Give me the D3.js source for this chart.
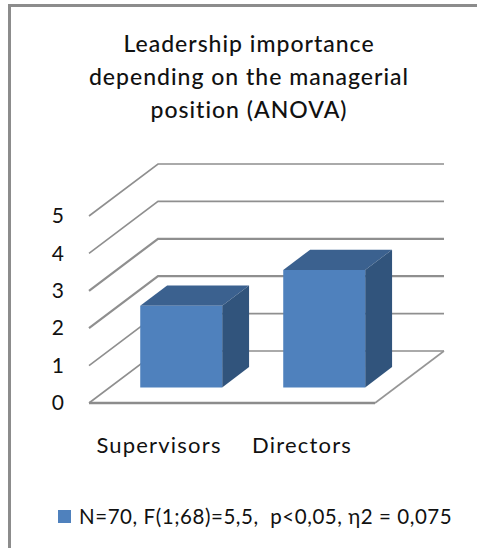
<!DOCTYPE html>
<html>
<head>
<meta charset="utf-8">
<script src="https://cdn.jsdelivr.net/npm/d3@7.9.0/dist/d3.min.js"></script>
<style>
  html, body { margin: 0; padding: 0; background: #fff; }
  svg { display: block; }
  text { font-family: Lato, "Open Sans", sans-serif; fill: #111; white-space: pre; }
  .axis path, .axis line { display: none; }
</style>
</head>
<body>
<div id="chart"></div>
<script>
const categories = ['Supervisors', 'Directors'];
const values = [2.18, 3.14];
const yTicks = [0, 1, 2, 3, 4, 5];
const titleLines = ['Leadership importance', 'depending on the managerial', 'position (ANOVA)'];
const legendLabel = 'N=70, F(1;68)=5,5,  p<0,05, \u03b72 = 0,075';

const width = 477;
const height = 548;

// front edge of the floor, and how far the back wall is pushed away from it
const floor = { left: 89, right: 375, y: 403 };
const depth = { dx: 69, dy: -52 };
const barDepth = { start: 0.3, end: 0.69 };

const svg = d3
  .select('#chart')
  .append('svg')
  .attr('width', width)
  .attr('height', height);

// chart frame, runs off the right and bottom of the crop
svg
  .append('rect')
  .attr('x', 9.5)
  .attr('y', 5.5)
  .attr('width', width + 20)
  .attr('height', height + 20)
  .attr('fill', '#fff')
  .attr('stroke', '#8c8c8c')
  .attr('stroke-width', 3);

const xScale = d3
  .scaleBand()
  .domain(categories)
  .range([floor.left, floor.right])
  .paddingInner(0.427)
  .paddingOuter(0.2135);

const yScale = d3.scaleLinear().domain([0, 5]).range([floor.y, 216]);

// x, value and depth (0 = front, 1 = back wall) to screen position
function project(x, v, z) {
  return [x + depth.dx * z, yScale(v) + depth.dy * z];
}

const line = d3.line();
const grid = svg.append('g');

grid
  .selectAll('path')
  .data(yTicks)
  .join('path')
  .attr('fill', 'none')
  .attr('stroke', '#8f8f8f')
  .attr('stroke-width', (d) => (d === 2 || d === 3 ? 2.2 : 1.6))
  .attr('d', (d) => line([
    project(floor.left, d, 0),
    project(floor.left, d, 1),
    project(floor.right, d, 1),
  ]));

// floor outline
svg
  .append('path')
  .attr('fill', 'none')
  .attr('stroke', '#969696')
  .attr('stroke-width', 1.6)
  .attr('d', line([project(floor.right, 0, 0), project(floor.right, 0, 1)]));

svg
  .append('path')
  .attr('fill', 'none')
  .attr('stroke', '#8c8c8c')
  .attr('stroke-width', 2.4)
  .attr('d', line([project(floor.left, 0, 0), project(floor.right, 0, 0)]));

const bars = svg
  .append('g')
  .selectAll('g')
  .data(categories.map((c, i) => ({ category: c, value: values[i] })))
  .join('g');

function barFace(d, fn) {
  const x0 = xScale(d.category);
  const x1 = x0 + xScale.bandwidth();
  return line(fn(x0, x1, d.value).map(([x, v, z]) => project(x, v, z)));
}

bars
  .append('path')
  .attr('fill', '#3b618f')
  .attr('d', (d) => barFace(d, (x0, x1, v) => [
    [x0, v, barDepth.start],
    [x0, v, barDepth.end],
    [x1, v, barDepth.end],
    [x1, v, barDepth.start],
  ]) + 'Z');

bars
  .append('path')
  .attr('fill', '#31547c')
  .attr('d', (d) => barFace(d, (x0, x1, v) => [
    [x1, 0, barDepth.start],
    [x1, 0, barDepth.end],
    [x1, v, barDepth.end],
    [x1, v, barDepth.start],
  ]) + 'Z');

bars
  .append('path')
  .attr('fill', '#4f81bd')
  .attr('d', (d) => barFace(d, (x0, x1, v) => [
    [x0, 0, barDepth.start],
    [x1, 0, barDepth.start],
    [x1, v, barDepth.start],
    [x0, v, barDepth.start],
  ]) + 'Z');

const yAxis = d3.axisLeft(yScale).tickValues(yTicks).tickFormat(d3.format('d')).tickSize(0);

svg
  .append('g')
  .attr('class', 'axis')
  .attr('transform', 'translate(67, 0)')
  .call(yAxis)
  .selectAll('text')
  .style('font-size', '21px');

const labelScale = d3.scalePoint().domain(categories).range([159, 302]);

svg
  .append('g')
  .selectAll('text')
  .data(categories)
  .join('text')
  .attr('x', (d) => labelScale(d))
  .attr('y', 453)
  .attr('text-anchor', 'middle')
  .style('font-size', '22px')
  .style('letter-spacing', '1.2px')
  .text((d) => d);

svg
  .append('g')
  .selectAll('text')
  .data(titleLines)
  .join('text')
  .attr('x', 249)
  .attr('y', (d, i) => 52 + i * 33)
  .attr('text-anchor', 'middle')
  .style('font-size', '23px')
  .style('font-weight', 500)
  .style('letter-spacing', '1px')
  .text((d) => d);

svg
  .append('rect')
  .attr('x', 58)
  .attr('y', 510)
  .attr('width', 13)
  .attr('height', 13)
  .attr('fill', '#4f81bd');

svg
  .append('text')
  .attr('x', 79)
  .attr('y', 524)
  .style('font-size', '20.5px')
  .style('letter-spacing', '0.55px')
  .text(legendLabel);
</script>
</body>
</html>
